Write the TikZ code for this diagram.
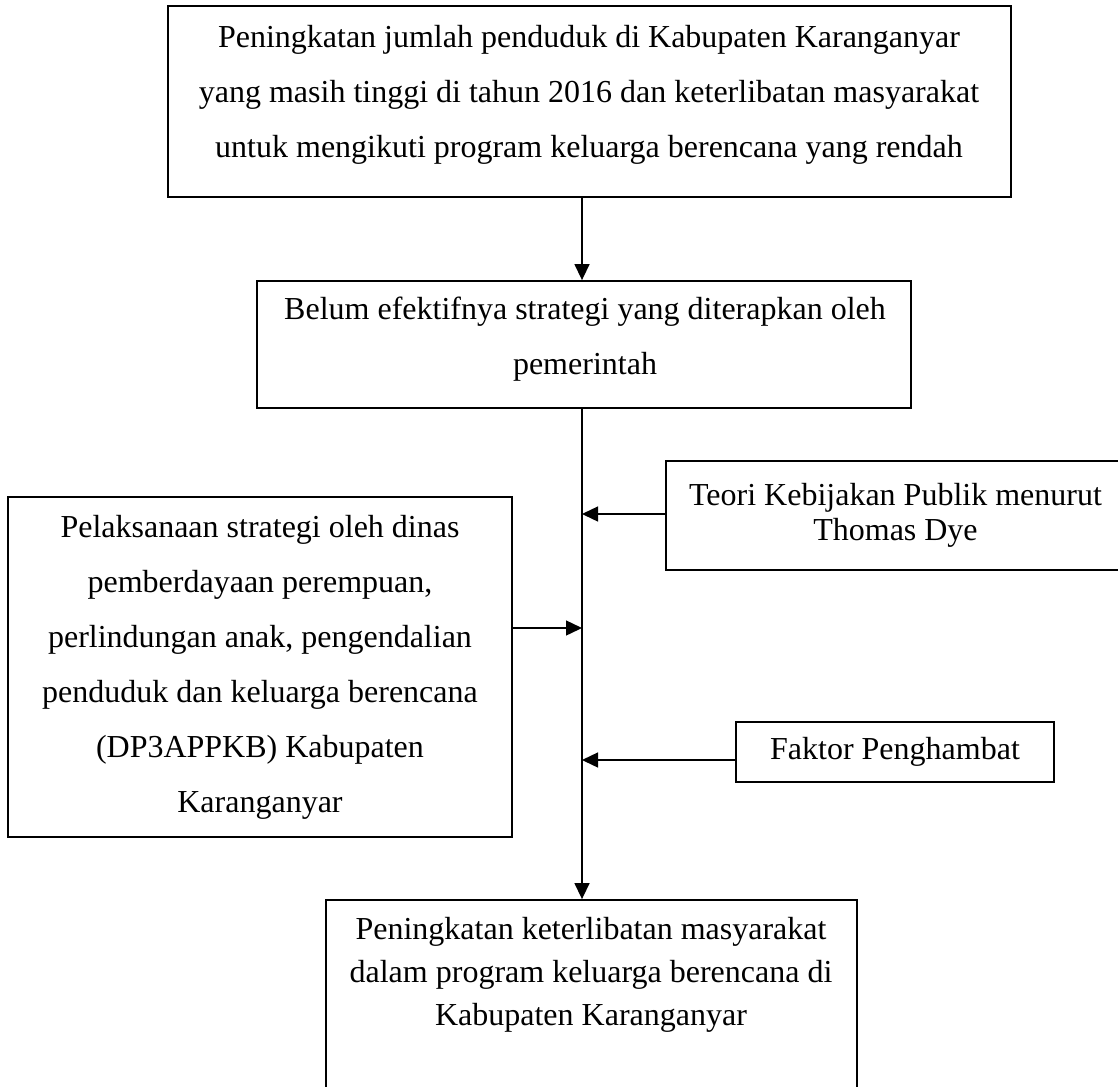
\documentclass[tikz,border=0pt]{standalone}
\usepackage{fontspec}
\setmainfont{Liberation Serif}
\usetikzlibrary{arrows.meta}
\begin{document}
\begin{tikzpicture}[x=1pt,y=-1pt,
  box/.style={draw, line width=1.8pt, inner sep=0pt},
  txt/.style={align=center, inner sep=0pt, font=\fontsize{32}{55}\selectfont},
  arr/.style={line width=1.4pt, -{Triangle[length=16pt,width=15pt]}},
  ln/.style={line width=1.4pt}]
\useasboundingbox (0,0) rectangle (1118,1086);
% boxes
\node[box, minimum width=843pt, minimum height=191pt] (b1) at (589.5,101.5) {};
\node[txt] (t1) at (589,95) {Peningkatan jumlah penduduk di Kabupaten Karanganyar\\yang masih tinggi di tahun 2016 dan keterlibatan masyarakat\\untuk mengikuti program keluarga berencana yang rendah};
\node[box, minimum width=654pt, minimum height=127pt] (b2) at (584,344.5) {};
\node[txt] (t2) at (585,339.5) {Belum efektifnya strategi yang diterapkan oleh\\pemerintah};
\node[box, minimum width=459pt, minimum height=109pt, txt, font=\fontsize{32}{35}\selectfont] (teori) at (895.5,515.5) {Teori Kebijakan Publik menurut\\Thomas Dye};
\node[box, minimum width=504pt, minimum height=340pt, txt] (left) at (260,667) {Pelaksanaan strategi oleh dinas\\pemberdayaan perempuan,\\perlindungan anak, pengendalian\\penduduk dan keluarga berencana\\(DP3APPKB) Kabupaten\\Karanganyar};
\node[box, minimum width=318pt, minimum height=60pt, txt] (faktor) at (895,752) {Faktor Penghambat};
\node[box, minimum width=531pt, minimum height=195pt] (b5) at (591.5,997.5) {};
\node[txt, font=\fontsize{32}{43}\selectfont] (t5) at (591,975) {Peningkatan keterlibatan masyarakat\\dalam program keluarga berencana di\\Kabupaten Karanganyar};
% junctions on the trunk
\coordinate (jT) at (582,514);
\coordinate (jL) at (582,628);
\coordinate (jF) at (582,760);
% connectors
\draw[arr] (b1.south -| jT) -- (b2.north -| jT);
\draw[arr] (b2.south -| jT) -- (b5.north -| jT);
\draw[arr] (teori.west |- jT) -- (jT);
\draw[arr] (left.east |- jL) -- (jL);
\draw[arr] (faktor.west |- jF) -- (jF);
\end{tikzpicture}
\end{document}
